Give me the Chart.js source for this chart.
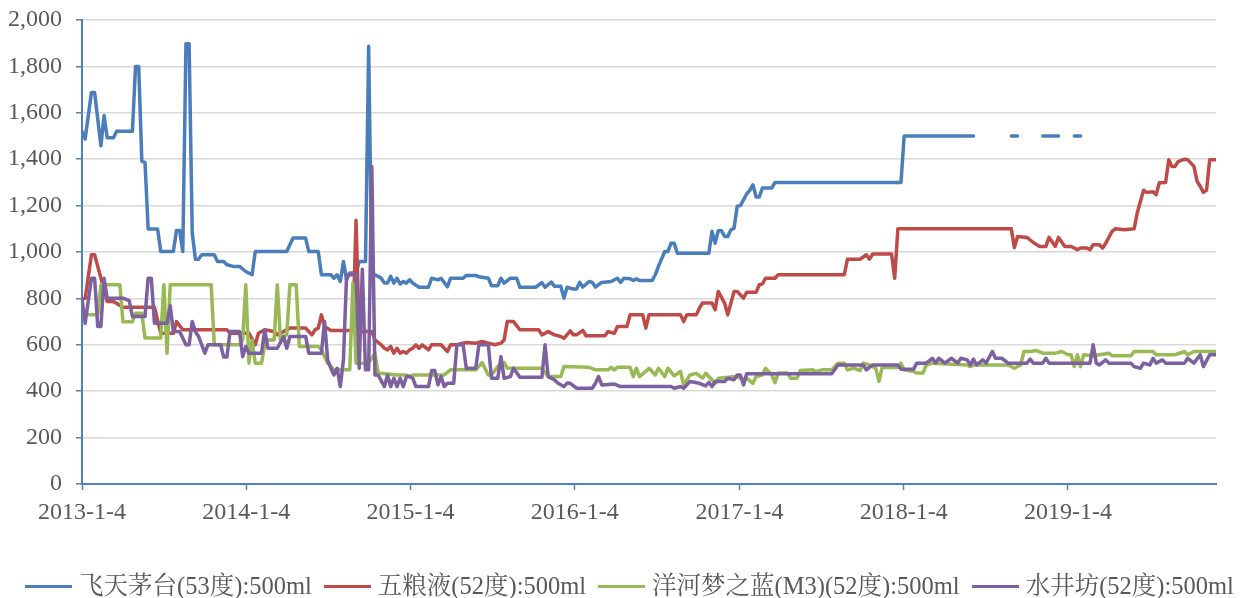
<!DOCTYPE html>
<html>
<head>
<meta charset="utf-8">
<script src="https://cdn.jsdelivr.net/npm/chart.js@4/dist/chart.umd.min.js"></script>
<style>
  html, body { margin: 0; padding: 0; background: #fff; }
  #wrap { position: relative; width: 1243px; height: 598px; overflow: hidden; }
  #legend { position: absolute; left: 8px; top: 572px; width: 1243px; height: 28px; line-height: 28px; display: flex; justify-content: center;
    font-family: "Liberation Serif", "Noto Serif CJK SC", "Noto Sans CJK SC", serif; font-size: 24.5px; color: #595959; }
  .item { display: flex; align-items: center; margin: 0 6px; white-space: nowrap; }
  .swatch { display: inline-block; width: 47px; height: 3px; margin-right: 7px; }
</style>
</head>
<body>
<div id="wrap">
  <canvas id="c" width="1243" height="598"></canvas>
  <div id="legend"></div>
</div>
<script>
// ---- tick labels (x axis dates) ----
const startDate = '2013-1-4';
const xTickLabels = ['2013-1-4', '2014-1-4', '2015-1-4', '2016-1-4', '2017-1-4', '2018-1-4', '2019-1-4'];
const seriesNames = ['飞天茅台(53度):500ml', '五粮液(52度):500ml', '洋河梦之蓝(M3)(52度):500ml', '水井坊(52度):500ml'];

// ---- series: x = weeks since 2013-1-4, y = price ----
const maotaiWeeks = [0,1,3,4,6,7,8,10,11,16,17,18,19,20,21,24,25,29,30,31,32,33,34,35,36,37,38,42,43,45,46,48,50,52,54,55,65,67,71,72,75,76,79,80,81,82,83,84,85,87,88,90,91,92,93,94,95,96,97,98,99,100,101,102,103,104,105,107,110,111,113,114,116,117,121,122,125,126,129,130,132,133,134,136,138,139,144,146,147,149,150,152,153,154,156,157,158,159,161,162,163,165,168,170,171,172,174,175,176,177,181,182,183,185,186,187,188,189,199,200,201,202,203,204,205,206,207,208,209,210,211,212,213,214,215,216,219,220,260,261,283,284,295,296,297,298,305,306,307,308,309,310,311,315,316,317,318];
const maotaiPrice = [1520,1487,1688,1688,1458,1588,1492,1492,1520,1520,1800,1800,1391,1386,1099,1099,1002,1002,1093,1093,1002,1898,1898,1082,969,969,988,988,959,959,945,938,938,916,902,1002,1002,1060,1060,1002,1002,902,902,887,902,873,959,880,909,909,959,959,1887,909,902,895,887,866,866,895,866,887,862,873,866,880,866,848,848,887,880,887,850,887,887,899,899,893,887,855,855,887,866,887,887,848,848,868,848,870,852,852,801,848,840,840,869,849,873,869,849,869,873,887,869,887,885,877,884,877,877,902,938,1002,1002,1038,1038,995,995,1089,1038,1092,1092,1067,1067,1096,1102,1197,1200,1225,1250,1266,1290,1237,1237,1276,1276,1300,1300,1500,1500,null,1500,1500,1500,null,1500,1500,1500,1500,1500,1500,null,1500,1500,1500,null];

const wuliangyeWeeks = [0,1,3,4,8,10,13,23,25,29,30,32,46,47,53,55,56,58,61,62,64,66,71,73,74,75,76,77,79,86,87,88,92,93,95,96,97,98,99,100,101,102,103,104,105,106,107,108,110,111,114,116,117,119,121,122,125,127,129,131,133,134,135,137,139,145,146,148,150,152,153,155,156,157,159,160,166,167,169,170,173,174,178,179,180,190,191,192,195,196,197,200,201,202,204,205,207,208,210,211,214,215,216,217,220,221,242,243,247,249,250,251,257,258,259,295,296,297,300,302,304,306,307,309,310,312,314,316,317,319,320,321,323,324,325,327,328,331,334,335,337,338,340,341,342,344,345,346,347,348,350,351,353,354,355,356,357,358,360];
const wuliangyePrice = [797,800,988,988,787,787,762,762,650,650,700,665,665,650,650,600,650,665,657,643,657,672,672,643,665,672,729,679,662,662,1137,657,657,621,600,585,578,593,564,585,564,571,564,578,585,600,585,600,578,600,600,571,600,600,607,610,607,614,607,600,607,621,700,700,665,665,643,657,643,636,628,660,643,643,662,639,639,657,650,679,679,729,729,672,729,729,700,729,729,758,780,780,751,830,780,729,830,830,801,826,826,859,862,887,887,902,902,969,969,988,969,991,991,887,1100,1100,1019,1067,1063,1041,1024,1024,1063,1024,1063,1024,1024,1010,1017,1017,1010,1031,1031,1017,1038,1089,1100,1096,1100,1168,1266,1257,1260,1247,1298,1300,1398,1369,1369,1390,1400,1398,1369,1305,1283,1257,1266,1398,1398];

const yangheWeeks = [0,5,6,12,13,16,17,19,20,25,26,27,28,41,42,50,51,52,53,54,55,57,58,59,61,62,63,65,66,68,69,75,76,78,80,85,86,87,91,93,94,100,103,104,105,115,117,120,125,127,129,130,132,134,135,146,148,152,153,161,163,167,168,169,170,174,175,176,177,179,180,182,183,185,186,188,190,191,193,195,197,198,200,201,202,205,208,210,211,213,214,216,217,219,220,221,224,225,227,228,232,233,235,238,240,242,243,245,247,248,250,252,253,254,259,260,261,264,265,267,268,270,281,282,283,294,296,298,299,301,303,305,309,311,313,314,315,316,317,318,321,326,327,333,334,340,341,347,350,351,353,360];
const yanghePrice = [729,729,859,859,699,699,736,736,629,629,859,564,859,859,600,600,621,859,521,621,521,521,600,621,621,859,621,643,859,859,593,593,578,521,492,492,866,521,521,564,478,470,470,463,470,470,492,492,492,523,470,470,506,523,499,499,463,463,506,503,492,492,503,492,503,503,463,499,463,485,499,470,499,463,499,466,485,427,470,477,456,477,449,434,456,460,463,449,456,434,463,470,499,470,437,478,478,456,456,489,492,485,492,492,521,521,492,499,489,521,513,499,442,502,502,521,492,485,478,478,513,521,513,506,513,513,499,513,571,571,575,564,564,571,557,557,506,557,506,557,553,564,553,553,571,571,557,557,571,557,571,571];

const shuijingfangWeeks = [0,1,3,4,5,6,7,8,13,15,16,20,21,22,23,27,28,29,31,33,34,35,36,37,39,40,44,45,46,47,50,51,52,53,57,58,59,62,64,65,66,71,72,76,77,78,79,80,81,82,83,84,87,88,89,90,91,92,93,94,96,97,98,99,100,101,102,103,104,105,106,110,111,112,113,114,115,116,118,119,121,122,125,126,129,130,132,133,134,136,137,139,146,147,148,150,151,153,154,155,157,162,163,164,165,169,171,187,188,190,191,193,196,198,199,200,201,204,205,207,208,209,210,211,238,240,248,249,251,259,260,264,265,268,270,271,272,274,276,278,279,281,282,283,284,286,287,289,290,292,294,300,301,302,305,306,307,320,321,322,323,325,326,333,334,336,337,339,340,341,343,344,350,351,353,355,356,358,360];
const shuijingfangPrice = [797,693,887,887,679,679,887,801,801,790,722,722,887,887,693,693,768,657,657,600,600,700,657,636,564,600,600,547,547,657,657,549,593,564,564,665,585,585,636,585,636,636,564,564,700,535,499,470,499,420,535,902,902,499,926,492,492,1369,470,470,420,470,420,456,420,456,420,463,463,456,420,420,489,489,427,463,420,434,434,600,600,499,499,600,600,456,456,549,456,463,499,460,460,600,463,449,435,420,435,434,413,413,434,463,427,431,420,420,413,420,413,442,434,423,438,420,442,442,456,449,470,470,427,475,475,513,513,492,513,513,495,495,521,521,542,521,542,521,542,521,542,535,513,538,513,535,521,571,542,542,521,521,538,521,521,542,521,521,600,521,513,535,521,521,506,499,521,513,542,521,535,521,521,542,521,557,506,557,557];

// ---- build ----
const dayMs = 86400000;
function parseD(s) { const p = s.split('-').map(Number); return Date.UTC(p[0], p[1]-1, p[2]); }
const xTickPos = xTickLabels.map(l => (parseD(l) - parseD(startDate)) / (7 * dayMs));
function pts(xs, ys) { return xs.map((x, i) => ({ x: x, y: ys[i] })); }

const colors = ['#4A7EBB', '#BE4B48', '#98B954', '#7D60A0'];
const series = [
  pts(maotaiWeeks, maotaiPrice),
  pts(wuliangyeWeeks, wuliangyePrice),
  pts(yangheWeeks, yanghePrice),
  pts(shuijingfangWeeks, shuijingfangPrice)
];
const axisBlue = '#4F81BD';
const tickFont = { family: '"Liberation Serif", "Times New Roman", serif', size: 24 };

const chart = new Chart(document.getElementById('c'), {
  type: 'line',
  data: {
    datasets: series.map((d, i) => ({
      label: seriesNames[i],
      data: d,
      borderColor: colors[i],
      backgroundColor: colors[i],
      borderWidth: 3.5,
      pointRadius: 0,
      tension: 0,
      spanGaps: false,
      borderJoinStyle: 'round',
      borderCapStyle: 'round',
      order: 4 - i
    }))
  },
  options: {
    responsive: false,
    devicePixelRatio: 1,
    animation: false,
    layout: { autoPadding: false, padding: { left: 0, right: 27, top: 20, bottom: 0 } },
    plugins: { legend: { display: false }, tooltip: { enabled: false } },
    scales: {
      x: {
        type: 'linear',
        min: 0,
        max: 360,
        afterBuildTicks: (scale) => { scale.ticks = xTickPos.map(v => ({ value: v })); },
        afterFit: (scale) => { scale.height = 114; scale.paddingLeft = 0; scale.paddingRight = 0; },
        ticks: {
          autoSkip: false, maxRotation: 0, minRotation: 0,
          callback: (v, i) => xTickLabels[i],
          font: tickFont, color: '#595959', padding: 8
        },
        grid: { drawOnChartArea: false, drawTicks: true, tickLength: 6, tickColor: axisBlue, tickWidth: 1.5 },
        border: { display: true, color: axisBlue, width: 2 }
      },
      y: {
        min: 0,
        max: 2000,
        afterFit: (scale) => { scale.width = 82; scale.paddingTop = 0; scale.paddingBottom = 0; },
        ticks: {
          stepSize: 200,
          callback: (v) => v.toLocaleString('en-US'),
          font: tickFont, color: '#595959', padding: 14
        },
        grid: { color: '#D9D9D9', lineWidth: 1.5, drawTicks: true, tickLength: 6, tickColor: axisBlue, tickWidth: 1.5 },
        border: { display: true, color: axisBlue, width: 2 }
      }
    }
  }
});

// ---- legend (HTML) ----
const lg = document.getElementById('legend');
seriesNames.forEach((n, i) => {
  const it = document.createElement('div'); it.className = 'item';
  const sw = document.createElement('span'); sw.className = 'swatch'; sw.style.background = colors[i];
  const tx = document.createElement('span'); tx.textContent = n;
  it.appendChild(sw); it.appendChild(tx); lg.appendChild(it);
});
</script>
</body>
</html>
